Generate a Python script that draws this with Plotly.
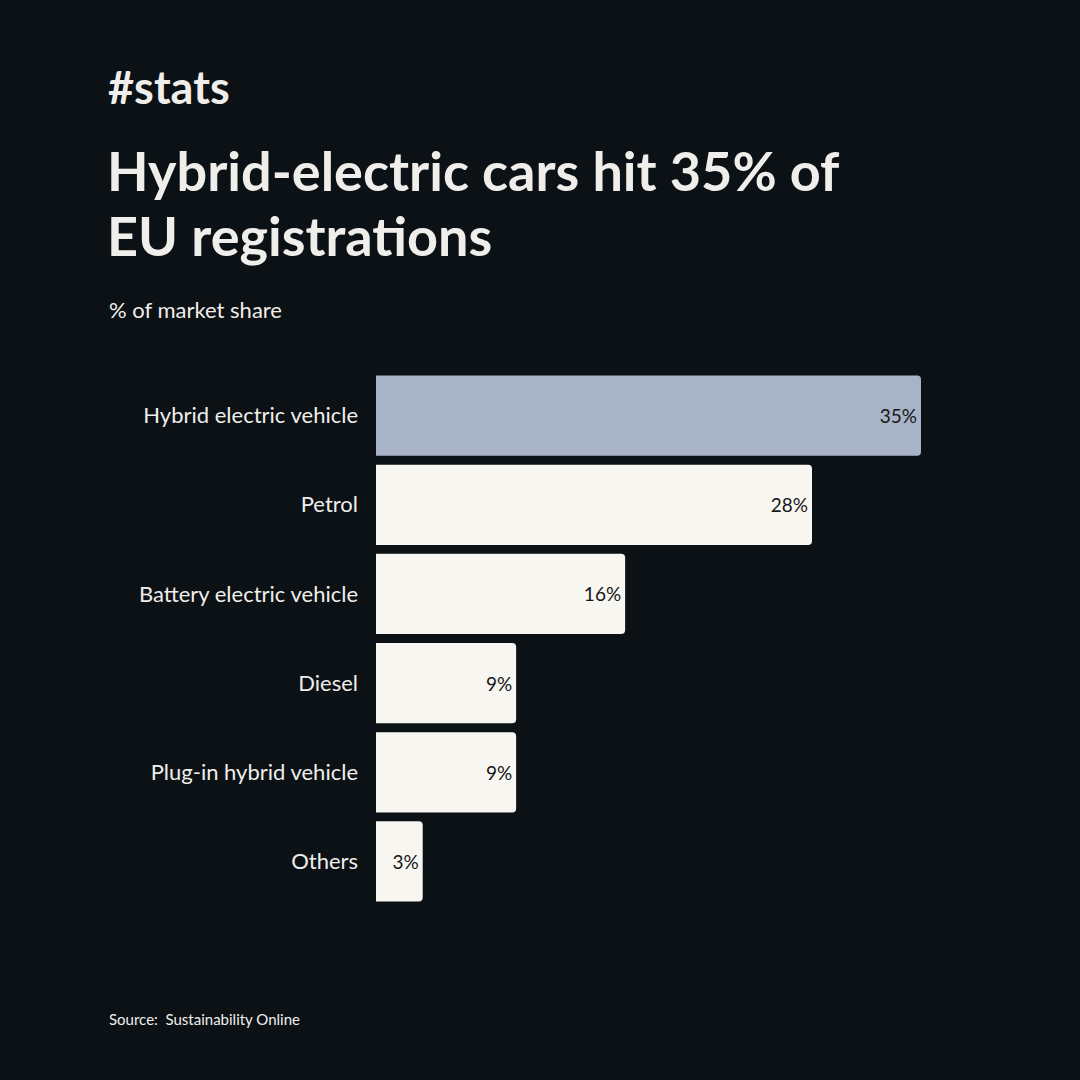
import plotly.graph_objects as go

# data
categories = ["Hybrid electric vehicle", "Petrol", "Battery electric vehicle",
              "Diesel", "Plug-in hybrid vehicle", "Others"]
shares = [35, 28, 16, 9, 9, 3]
highlight = "Hybrid electric vehicle"

BG = "#0b1115"
TXT = "#f0eeeb"
bar_colors = ["#a8b3c7" if c == highlight else "#f8f6f1" for c in categories]

W, H = 1080, 1080
L, R, T, B = 376, 921, 371, 906  # plot area in pixels


def px(x):
    return (x - L) / (R - L)


def py(y):
    return (B - y) / (B - T)


fig = go.Figure(go.Bar(
    x=shares,
    y=categories,
    orientation="h",
    marker=dict(color=bar_colors, line=dict(width=0)),
    text=[f"{v}%" for v in shares],
    textposition="inside",
    insidetextanchor="end",
    textangle=0,
    textfont=dict(family="Lato", size=19, color="#161616"),
    hoverinfo="skip",
))

fig.update_layout(
    width=W, height=H,
    paper_bgcolor=BG, plot_bgcolor=BG,
    margin=dict(l=L, r=W - R, t=T, b=H - B, pad=0),
    bargap=0.1,
    barcornerradius=4,
    showlegend=False,
    font=dict(family="Lato", color=TXT),
    xaxis=dict(range=[0, 35], visible=False, fixedrange=True),
    yaxis=dict(autorange="reversed", showgrid=False, zeroline=False,
               showline=False, ticks="", ticklabelstandoff=17,
               tickfont=dict(family="Lato", size=22, color=TXT)),
)

annotations = [
    dict(text="<b>#stats</b>", x=px(106), y=py(58), size=45),
    dict(text="<b>Hybrid-electric cars hit 35% of</b>", x=px(105), y=py(136), size=54),
    dict(text="<b>EU registrations</b>", x=px(105), y=py(201), size=54),
    dict(text="% of market share", x=px(107), y=py(294), size=22),
    dict(text="Source:  Sustainability Online", x=px(107), y=py(1008), size=15),
]
for a in annotations:
    fig.add_annotation(
        text=a["text"], x=a["x"], y=a["y"], xref="paper", yref="paper",
        xanchor="left", yanchor="top", align="left", showarrow=False,
        font=dict(family="Lato", size=a["size"], color=TXT),
    )

fig.write_html(
    "out.html",
    config={"displayModeBar": False},
    post_script="document.body.style.margin='0';"
                "document.body.style.background='#0b1115';",
)
